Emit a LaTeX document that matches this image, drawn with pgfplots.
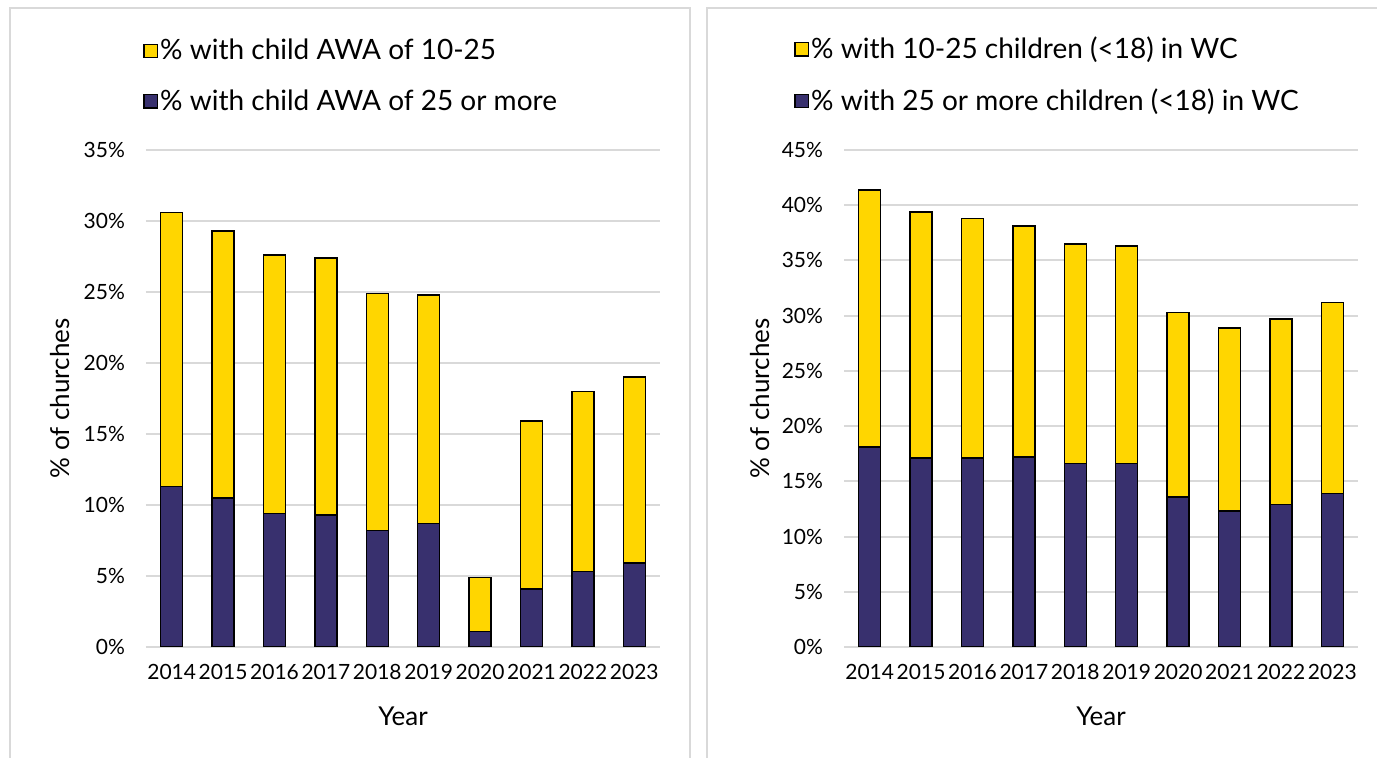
\documentclass[border=0pt]{standalone}
\usepackage{fontspec}
\setmainfont{Lato}
\usepackage{pgfplots}
\usepackage{pgfplotstable}
\pgfplotsset{compat=1.18}
\definecolor{barpurple}{HTML}{38306E}
\definecolor{baryellow}{HTML}{FFD600}
\definecolor{gridgray}{HTML}{D9D9D9}

\pgfplotstableread{
x purple yellow
0 11.3 19.3
1 10.5 18.8
2 9.4 18.2
3 9.3 18.1
4 8.2 16.7
5 8.7 16.1
6 1.1 3.8
7 4.1 11.8
8 5.3 12.7
9 5.9 13.1
}\leftdata

\pgfplotstableread{
x purple yellow
0 18.1 23.3
1 17.1 22.3
2 17.1 21.7
3 17.2 20.9
4 16.6 19.9
5 16.6 19.7
6 13.6 16.7
7 12.3 16.6
8 12.9 16.8
9 13.9 17.3
}\rightdata

\pgfplotsset{
 mystyle/.style={
  scale only axis, width=257pt, height=248.5pt,
  ybar stacked, bar width=11pt,
  xmin=-0.5, xmax=9.5, ymin=0,
  xtick={0,1,2,3,4,5,6,7,8,9},
  xticklabels={2014,2015,2016,2017,2018,2019,2020,2021,2022,2023},
  axis line style={draw=none},
  major tick length=0pt,
  ymajorgrids, grid style={gridgray, line width=1pt},
  tick label style={font=\fontsize{10.5}{12}\selectfont},
  /pgf/number format/assume math mode=true,
  yticklabel={\pgfmathprintnumber{\tick}\%},
  xticklabel style={yshift=-5pt},
  yticklabel style={xshift=-7pt},
  label style={font=\fontsize{13}{15}\selectfont},
  xlabel={Year},
  xlabel style={at={(axis description cs:0.5,-0.139)}, anchor=center},
  reverse legend,
  legend cell align=left,
  legend style={draw=none, fill=none, inner sep=0pt, row sep=11pt,
    font=\fontsize{14}{16}\selectfont,
    nodes={inner sep=1.2pt}},
 },
 barsty/.style={draw=black, line width=0.75pt, fill=#1,
   legend image code/.code={\draw[fill=#1, draw=black, line width=0.6pt] (0pt,-3.3pt) rectangle (6.6pt,3.3pt);}},
}

\begin{document}
\begin{tikzpicture}
\path[use as bounding box] (0,0) rectangle (688.5pt,-379pt);
\draw[gridgray, line width=1pt] (5pt,-400pt) -- (5pt,-4pt) -- (345pt,-4pt) -- (345pt,-400pt);
\draw[gridgray, line width=1pt] (353.5pt,-400pt) -- (353.5pt,-4pt) -- (700pt,-4pt);

\begin{axis}[mystyle, at={(73pt,-323.5pt)}, anchor=south west,
  ymax=35, ytick={0,5,...,35},
  ylabel={\% of churches},
  ylabel style={at={(axis description cs:-0.167,0.5)}, anchor=center},
  legend style={at={(axis description cs:0,1)}, anchor=south west, xshift=-1.5pt, yshift=17pt}]
\addplot+[barsty=barpurple] table[x=x, y=purple] {\leftdata};
\addlegendentry{\% with child AWA of 25 or more}
\addplot+[barsty=baryellow] table[x=x, y=yellow] {\leftdata};
\addlegendentry{\% with child AWA of 10-25}
\end{axis}

\begin{axis}[mystyle, at={(422pt,-323.5pt)}, anchor=south west,
  ymax=45, ytick={0,5,...,45},
  ylabel={\% of churches},
  ylabel style={at={(axis description cs:-0.163,0.5)}, anchor=center},
  legend style={at={(axis description cs:0,1)}, anchor=south west, xshift=-25pt, yshift=17pt}]
\addplot+[barsty=barpurple] table[x=x, y=purple] {\rightdata};
\addlegendentry{\% with 25 or more children (<18) in WC}
\addplot+[barsty=baryellow] table[x=x, y=yellow] {\rightdata};
\addlegendentry{\% with 10-25 children (<18) in WC}
\end{axis}
\end{tikzpicture}
\end{document}
